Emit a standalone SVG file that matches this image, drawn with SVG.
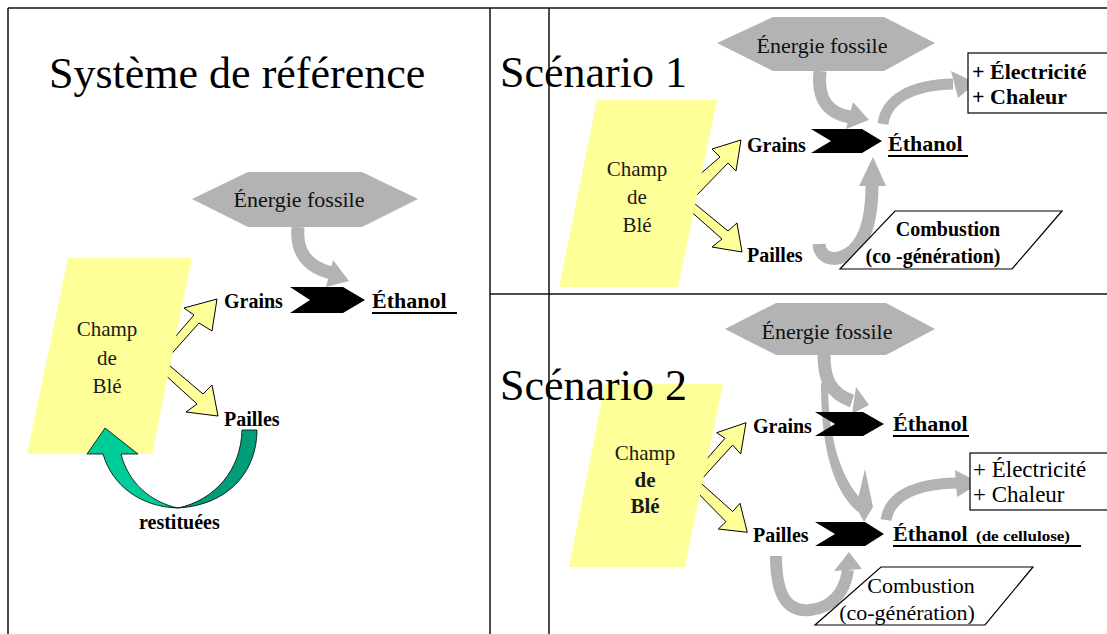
<svg xmlns="http://www.w3.org/2000/svg" width="1107" height="634" viewBox="0 0 1107 634" font-family="Liberation Serif, DejaVu Serif, serif">
  <style>
    text { font-family: 'Liberation Serif', 'DejaVu Serif', serif; fill: #000; }
    .title { font-size: 44px; }
    .hex { fill: #b3b3b3; }
    .hex-label { font-size: 22px; text-anchor: middle; fill: #111; }
    .field { fill: #ffff99; }
    .field-label { font-size: 21px; text-anchor: middle; fill: #1a1a1a; }
    .lbl { font-size: 20px; font-weight: bold; }
    .eth { font-size: 22px; font-weight: bold; }
    .chev { fill: #000; }
    .uline { fill: #000; }
    .yarrow { fill: #ffff99; stroke: #000; stroke-width: 1; stroke-linejoin: miter; }
    .gstem { fill: none; stroke: #b3b3b3; stroke-width: 13; }
    .ghead { fill: #b3b3b3; }
    .frame { stroke: #111; stroke-width: 1.5; fill: none; }
    .outline { fill: #fff; stroke: #000; stroke-width: 1.2; }
  </style>

  <!-- panel frame -->
  <g id="frame" class="frame">
    <line x1="8" y1="8" x2="1107" y2="8"/>
    <line x1="8" y1="8" x2="8" y2="634"/>
    <line x1="490" y1="8" x2="490" y2="634"/>
    <line x1="549" y1="8" x2="549" y2="634"/>
    <line x1="490" y1="294" x2="1107" y2="294"/>
  </g>

  <!-- ===== Système de référence ===== -->
  <text class="title" x="49" y="88">Système de référence</text>

  <g id="connectors">
    <!-- reference system -->
    <polygon class="yarrow" points="168.5,344.6 194,315 184,308 217,299 212,331 199,323 165.5,360.6"/>
    <polygon class="yarrow" points="162.4,359.5 203,394 212,385 218,416 186,412 197,404 160.4,370.5"/>
    <path class="gstem" d="M298,227 C296,250 305,266 331,273"/>
    <polygon class="ghead" points="333,260 349,281 326,287"/>

    <!-- scenario 1 -->
    <polygon class="yarrow" points="691,182 720,157 712,149 741,140 736,171 728,163 694,198"/>
    <polygon class="yarrow" points="689,199 728,231 737,223 742,252 712,247 722,239 687,208"/>
    <path class="gstem" d="M820,71 C817,100 828,113 850,117"/>
    <polygon class="ghead" points="853,102 869,120 846,129"/>
    <path class="gstem" style="stroke-width:11" d="M883,124 C886,100 910,85 953,84"/>
    <polygon class="ghead" points="951,71 976,83 958,98"/>
    <path class="gstem" d="M819,244 C820,263 845,263 858,245 C868,232 872,210 872,185"/>
    <polygon class="ghead" points="859,186 873,157 886,186"/>

    <!-- scenario 2 -->
    <polygon class="yarrow" points="686.7,481.7 725,438.3 716.7,432.7 746,422.7 740.7,454 732.7,445 699.3,481.7 732.7,511.5 740,503.3 747.3,532.3 718.3,529 726,521.7"/>
    <path class="gstem" d="M824,355 C824,377 829,393 852,401"/>
    <polygon class="ghead" points="856,387 869,405 852,414"/>
    <path class="ghead" d="M821,383 C821,440 830,488 858,512 L862,500 C842,480 828,440 828,383 Z"/>
    <polygon class="ghead" points="865,469 873,507 864,522 856,507"/>
    <path class="gstem" style="stroke-width:12" d="M776,556 C776,600 790,612 810,610 C832,608 845,592 848,570"/>
    <polygon class="ghead" points="834,571 849,552 862,569"/>
    <path class="gstem" style="stroke-width:11" d="M886,520 C890,495 915,484 957,483"/>
    <polygon class="ghead" points="955,470 980,483 957,497"/>
  </g>

  <g id="ref-fossil">
    <polygon class="hex" points="192,199 248,172 362,172 418,199 362,227 248,227"/>
    <text class="hex-label" x="299" y="207">Énergie fossile</text>
  </g>

  <g id="ref-field">
    <polygon class="field" points="68,258 192,258 152,454 27,454"/>
    <text class="field-label" x="107" y="336">Champ</text>
    <text class="field-label" x="107" y="365">de</text>
    <text class="field-label" x="107" y="393">Blé</text>
  </g>

  <g id="ref-grains"><text class="lbl" x="224" y="308">Grains</text></g>
  <g id="ref-process"><polygon class="chev" points="290,287 343,287 365,300 343,313 290,313 310,300"/></g>
  <g id="ref-ethanol">
    <text class="eth" x="372" y="308">Éthanol</text>
    <rect class="uline" x="372" y="312" width="85" height="2"/>
  </g>
  <g id="ref-pailles"><text class="lbl" x="224" y="426">Pailles</text></g>

  <!-- straw returned to the field -->
  <g id="ref-return">
    <path d="M257,430 C257,470 230,505 178,508 C215,500 241,470 242,430 Z" fill="#009e78" stroke="#000" stroke-width="0.8"/>
    <path d="M178,508 C140,507 112,485 103,454 L87,454 L105,428 L138,454 L121,454 C128,482 150,502 178,508 Z" fill="#00cc99" stroke="#000" stroke-width="0.8"/>
    <text class="lbl" x="139" y="529">restituées</text>
  </g>

  <!-- ===== Scénario 1 ===== -->
  <text class="title" x="500" y="87">Scénario 1</text>

  <g id="s1-fossil">
    <polygon class="hex" points="717,43 773,17 884,17 935,43 884,71 773,71"/>
    <text class="hex-label" x="822" y="53">Énergie fossile</text>
  </g>
  <g id="s1-field">
    <polygon class="field" points="597,100 717,100 678,287 559,287"/>
    <text class="field-label" x="637" y="176">Champ</text>
    <text class="field-label" x="637" y="204">de</text>
    <text class="field-label" x="637" y="232">Blé</text>
  </g>
  <g id="s1-grains"><text class="lbl" x="747" y="152">Grains</text></g>
  <g id="s1-pailles"><text class="lbl" x="747" y="262">Pailles</text></g>
  <g id="s1-process"><polygon class="chev" points="811,129 862,129 882,141 862,153 811,153 831,141"/></g>
  <g id="s1-ethanol">
    <text class="eth" x="888" y="151">Éthanol</text>
    <rect class="uline" x="888" y="155" width="80" height="2"/>
  </g>
  <g id="s1-outputs">
    <rect class="outline" x="968" y="53" width="150" height="60"/>
    <text x="972" y="79" font-size="22" font-weight="bold">+ Électricité</text>
    <text x="972" y="104" font-size="22" font-weight="bold">+ Chaleur</text>
  </g>
  <g id="s1-combustion">
    <polygon class="outline" points="895,211 1062,211 1012,269 840,269"/>
    <text class="lbl" x="948" y="236" text-anchor="middle">Combustion</text>
    <text class="lbl" x="933" y="263" text-anchor="middle">(co -génération)</text>
  </g>

  <!-- ===== Scénario 2 ===== -->
  <g id="s2-field">
    <polygon class="field" points="605,384 723,384 685,567 569,567"/>
    <text class="field-label" x="645" y="460">Champ</text>
    <text class="field-label" x="645" y="487" font-weight="bold" fill="#000">de</text>
    <text class="field-label" x="645" y="513" font-weight="bold" fill="#000">Blé</text>
  </g>
  <text class="title" x="500" y="400">Scénario 2</text>

  <g id="s2-fossil">
    <polygon class="hex" points="725,329 776,303 886,303 935,329 886,355 776,355"/>
    <text class="hex-label" x="827" y="339">Énergie fossile</text>
  </g>
  <g id="s2-grains"><text class="lbl" x="753" y="433">Grains</text></g>
  <g id="s2-pailles"><text class="lbl" x="753" y="542">Pailles</text></g>
  <g id="s2-process-grains">
    <polygon class="chev" points="815,412 863,412 884,424 863,436 815,436 835,424"/>
  </g>
  <g id="s2-process-pailles">
    <polygon class="chev" points="815,522 865,522 884,534 865,546 815,546 835,534"/>
  </g>
  <g id="s2-ethanol">
    <text class="eth" x="893" y="431">Éthanol</text>
    <rect class="uline" x="893" y="435" width="76" height="2"/>
  </g>
  <g id="s2-ethanol-cellulose">
    <text class="eth" x="893" y="541">Éthanol</text>
    <text x="976" y="541" font-size="14" font-weight="bold" textLength="94" lengthAdjust="spacingAndGlyphs">(de cellulose)</text>
    <rect class="uline" x="893" y="545" width="188" height="2"/>
  </g>
  <g id="s2-outputs">
    <rect class="outline" x="970" y="453" width="150" height="57"/>
    <text x="973" y="477" font-size="23">+ Électricité</text>
    <text x="973" y="502" font-size="23">+ Chaleur</text>
  </g>
  <g id="s2-combustion">
    <polygon class="outline" points="881,567 1033,567 985,625 815,625"/>
    <text x="921" y="593" text-anchor="middle" font-size="22">Combustion</text>
    <text x="907" y="620" text-anchor="middle" font-size="22">(co-génération)</text>
  </g>
</svg>
